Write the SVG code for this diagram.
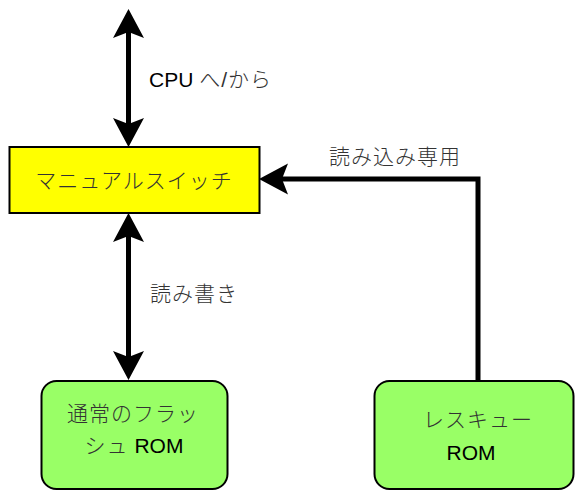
<svg xmlns="http://www.w3.org/2000/svg" width="575" height="491" viewBox="0 0 575 491">
  <style>
    .node-rect { stroke: #000; stroke-width: 2; }
    .switch { fill: #ffff00; }
    .rom { fill: #99ff66; }
    .conn { fill: none; stroke: #000; stroke-width: 5; }
    text { font-family: "Liberation Sans", "Noto Sans CJK JP", sans-serif; font-size: 21px; fill: #000; }
    .jp { fill: #333; letter-spacing: 1px; font-weight: 300; }
    .c { text-anchor: middle; }
  </style>
  <defs>
    <marker id="ah" markerUnits="userSpaceOnUse" markerWidth="40" markerHeight="40" viewBox="-10 -20 40 40" refX="0" refY="0" orient="auto-start-reverse">
      <path d="M23,0 L-6,-15.5 L0,0 L-6,15.5 Z" fill="#000"/>
    </marker>
  </defs>
  <rect width="575" height="491" fill="#fff"/>
  <g id="connectors">
    <path class="conn" d="M128.5,32 L128.5,124" marker-start="url(#ah)" marker-end="url(#ah)"/>
    <path class="conn" d="M128.5,236 L128.5,357" marker-start="url(#ah)" marker-end="url(#ah)"/>
    <path class="conn" d="M478,381 L478,179 L282,179" marker-end="url(#ah)"/>
    <text x="149" y="87">CPU <tspan class="jp">へ/から</tspan></text>
    <text x="150" y="301" class="jp">読み書き</text>
    <text x="329" y="164" class="jp">読み込み専用</text>
  </g>
  <g id="manual-switch">
    <rect class="node-rect switch" x="9.5" y="147" width="250" height="66"/>
    <text class="c jp" x="134" y="188">マニュアルスイッチ</text>
  </g>
  <g id="normal-flash">
    <rect class="node-rect rom" x="41.5" y="381" width="186" height="108" rx="15" ry="15"/>
    <text class="c jp" x="133" y="421">通常のフラッ</text>
    <text class="c" x="134" y="453"><tspan class="jp">シュ</tspan> ROM</text>
  </g>
  <g id="rescue-rom">
    <rect class="node-rect rom" x="374.5" y="381" width="199" height="108" rx="15" ry="15"/>
    <text class="c jp" x="478" y="427">レスキュー</text>
    <text class="c" x="471" y="460">ROM</text>
  </g>
</svg>
